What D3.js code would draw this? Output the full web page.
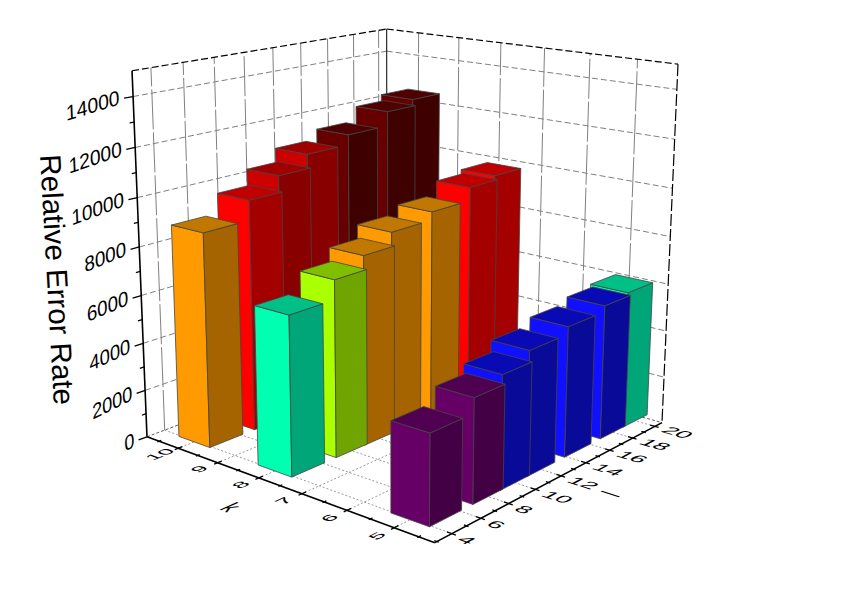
<!DOCTYPE html>
<html lang="en">
<head>
<meta charset="UTF-8">
<title>Relative Error Rate</title>
<style>
  body { margin: 0; background: #fff; }
  svg { display: block; }
  text { font-family: "Liberation Sans", Arial, sans-serif; fill: #000; }
</style>
</head>
<body>
<div id="chart-container"></div>
<script src="https://d3js.org/d3.v7.min.js"></script>
<script>
// values
const kValues = [10, 8, 5];
const lValues = [5, 8, 10, 12, 15, 18, 20];
const errorK10 = [8880, 9700, 10400, 11000, 11420, 12040, 12330];
const errorK8 = [6500, 7300, 7900, 8500, 8840, 9400, 9600];
const errorK5 = [3580, 4180, 4600, 5100, 5400, 5640, 5790];

const kTicks = [10, 9, 8, 7, 6, 5];
const lTicks = [4, 6, 8, 10, 12, 14, 16, 18, 20];
const zTicks = [0, 2000, 4000, 6000, 8000, 10000, 12000, 14000];
const kMinor = [10.5, 9.5, 8.5, 7.5, 6.5, 5.5, 4.5];
const lMinor = [3, 5, 7, 9, 11, 13, 15, 17, 19];
const zMinor = [1000, 3000, 5000, 7000, 9000, 11000, 13000];

// colour map levels: [front, side, top]
const levels = [4400, 5700, 7000, 7600, 9000, 10000, 11200];
const frontColors = ["#660066", "#1010ff", "#00ffb0", "#aaff00", "#ff9b00", "#ff0000", "#cc0000", "#660000"];
const sideColors = ["#440044", "#0a0a99", "#00a678", "#70a400", "#a56400", "#a50000", "#880000", "#3f0000"];
const topColors = ["#500050", "#0a0ab4", "#00c088", "#80bf00", "#c07800", "#c00000", "#a00000", "#4f0000"];

const width = 842, height = 596;

const svg = d3.select("#chart-container").append("svg")
  .attr("width", width)
  .attr("height", height);

// perspective box: back bottom corner plus the three edges and their vanishing points
const O = [387, 346];
const vpA = [-1620, -213], endA = [662, 423];
const vpB = [1866, -213.5], endB = [147, 437];
const vpC = [393, 6448], endC = [388, 29];
const la = (endA[0] - O[0]) / (vpA[0] - endA[0]);
const lb = (endB[0] - O[0]) / (vpB[0] - endB[0]);
const lc = (endC[1] - O[1]) / (vpC[1] - endC[1]);

function project(a, b, c) {
  const w = 1 + a * la + b * lb + c * lc;
  return [
    (O[0] + a * la * vpA[0] + b * lb * vpB[0] + c * lc * vpC[0]) / w,
    (O[1] + a * la * vpA[1] + b * lb * vpB[1] + c * lc * vpC[1]) / w
  ];
}

const kScale = d3.scaleLinear().domain([10.82, 4.18]).range([0, 1]);
const lScale = d3.scaleLinear().domain([20.66, 2.86]).range([0, 1]);
const zScale = d3.scaleLinear().domain([0, 15000]).range([0, 1]);
const colorIndex = d3.scaleThreshold().domain(levels).range(d3.range(8));

const line = d3.line();

function seg(g, p, q, stroke, w, dash) {
  g.append("path")
    .attr("d", line([project(...p), project(...q)]))
    .attr("fill", "none")
    .attr("stroke", stroke)
    .attr("stroke-width", w)
    .attr("stroke-dasharray", dash || null);
}

// text laid into the 3d box: u = baseline direction, v = up direction
function text3d(str, p, u, v, size, su, sv, anchor, extra) {
  const p0 = project(...p);
  const pu = project(p[0] + u[0] * 0.01, p[1] + u[1] * 0.01, p[2] + u[2] * 0.01);
  const pv = project(p[0] + v[0] * 0.01, p[1] + v[1] * 0.01, p[2] + v[2] * 0.01);
  let ux = pu[0] - p0[0], uy = pu[1] - p0[1];
  let vx = pv[0] - p0[0], vy = pv[1] - p0[1];
  const lu = Math.hypot(ux, uy), lv = Math.hypot(vx, vy);
  ux /= lu; uy /= lu; vx /= lv; vy /= lv;
  if (extra) {
    const c = Math.cos(extra), s = Math.sin(extra);
    [ux, uy] = [ux * c - uy * s, ux * s + uy * c];
  }
  svg.append("text")
    .attr("transform", `matrix(${ux * su},${uy * su},${-vx * sv},${-vy * sv},${p0[0]},${p0[1]})`)
    .attr("text-anchor", anchor)
    .style("font-size", size + "px")
    .text(str);
}

// walls and floor grid
const grid = svg.append("g");
const gridGray = "#808080";
zTicks.filter(d => d > 0).forEach(d => {
  const c = zScale(d);
  seg(grid, [0, 1, c], [0, 0, c], gridGray, 1, "6 3");
  seg(grid, [0, 0, c], [1, 0, c], gridGray, 1, "6 3");
});
lTicks.forEach(d => {
  const b = lScale(d);
  seg(grid, [0, b, 0], [0, b, 1], gridGray, 1, "40 3");
  seg(grid, [0, b, 0], [1, b, 0], gridGray, 0.8, "2 2");
});
kTicks.forEach(d => {
  const a = kScale(d);
  seg(grid, [a, 0, 0], [a, 0, 1], gridGray, 1, "40 3");
  seg(grid, [a, 0, 0], [a, 1, 0], gridGray, 0.8, "2 2");
});

// box outline
seg(grid, [0, 1, 0], [0, 0, 0], "#333", 0.8, "3 2");
seg(grid, [0, 0, 0], [1, 0, 0], "#333", 0.8, "3 2");
seg(grid, [0, 0, 0], [0, 0, 1], "#000", 1);
seg(grid, [0, 1, 1], [0, 0, 1], "#000", 1.2, "7 3");
seg(grid, [0, 0, 1], [1, 0, 1], "#000", 1.2, "7 3");
seg(grid, [1, 0, 1], [1, 0, 0], "#000", 1.2, "12 3");

// bars, back to front
const series = [errorK10, errorK8, errorK5];
const faces = [];
kValues.forEach((k, i) => {
  d3.range(lValues.length - 1, -1, -1).forEach(j => {
    const v = series[i][j], l = lValues[j];
    const a0 = kScale(k + 0.4), a1 = kScale(k - 0.4);
    const b0 = lScale(l + 1.1), b1 = lScale(l - 1.1);
    const c = zScale(v), idx = colorIndex(v);
    faces.push({ fill: frontColors[idx], pts: [[a0, b1, 0], [a1, b1, 0], [a1, b1, c], [a0, b1, c]] });
    faces.push({ fill: sideColors[idx], pts: [[a1, b1, 0], [a1, b0, 0], [a1, b0, c], [a1, b1, c]] });
    faces.push({ fill: topColors[idx], pts: [[a0, b1, c], [a1, b1, c], [a1, b0, c], [a0, b0, c]] });
  });
});

svg.append("g").selectAll("path")
  .data(faces)
  .enter().append("path")
  .attr("d", d => line(d.pts.map(p => project(...p))) + "Z")
  .attr("fill", d => d.fill)
  .attr("stroke", "#444")
  .attr("stroke-width", 0.8)
  .attr("stroke-linejoin", "round");

// axes
const axes = svg.append("g");
seg(axes, [0, 1, 0], [0, 1, 1], "#000", 1.6);
seg(axes, [0, 1, 0], [1, 1, 0], "#000", 1.6);
seg(axes, [1, 1, 0], [1, 0, 0], "#000", 1.6);

zTicks.forEach(d => seg(axes, [0, 1, zScale(d)], [0, 1.03, zScale(d)], "#000", 1.3));
zMinor.forEach(d => seg(axes, [0, 1, zScale(d)], [0, 1.015, zScale(d)], "#000", 1.3));
kTicks.forEach(d => seg(axes, [kScale(d), 0.985, 0], [kScale(d), 1.012, 0], "#000", 1.3));
kMinor.forEach(d => seg(axes, [kScale(d), 0.992, 0], [kScale(d), 1.006, 0], "#000", 1.3));
lTicks.forEach(d => seg(axes, [0.985, lScale(d), 0], [1.012, lScale(d), 0], "#000", 1.3));
lMinor.forEach(d => seg(axes, [0.992, lScale(d), 0], [1.006, lScale(d), 0], "#000", 1.3));

// tick labels
zTicks.forEach(d => {
  text3d(d3.format("d")(d), [0, 1.045, zScale(d) - 0.014], [0, -1, 0], [0, 0, 1], 21, 0.96, 1, "end", -0.12);
});
kTicks.forEach(d => {
  text3d(String(d), [kScale(d) + 0.012, 1.06, 0], [0, -1, 0], [-1, 0, 0], 23, 1, 0.62, "middle");
});
lTicks.forEach(d => {
  text3d(String(d), [1.03, lScale(d) + 0.024, 0], [1, 0, 0], [0, -1, 0], 24, 1, 0.68, "start");
});

// axis titles
text3d("k", [0.5, 1.2, 0], [1, 0, 0], [0, -1, 0], 26, 0.7, 1, "middle");
text3d("l", [1.13, 0.5, 0], [0, -1, 0], [1, 0, 0], 26, 0.6, 1, "middle");

svg.append("text")
  .attr("transform", "translate(40,155) rotate(86.8)")
  .style("font-size", "29.5px")
  .text("Relative Error Rate");
</script>
</body>
</html>
